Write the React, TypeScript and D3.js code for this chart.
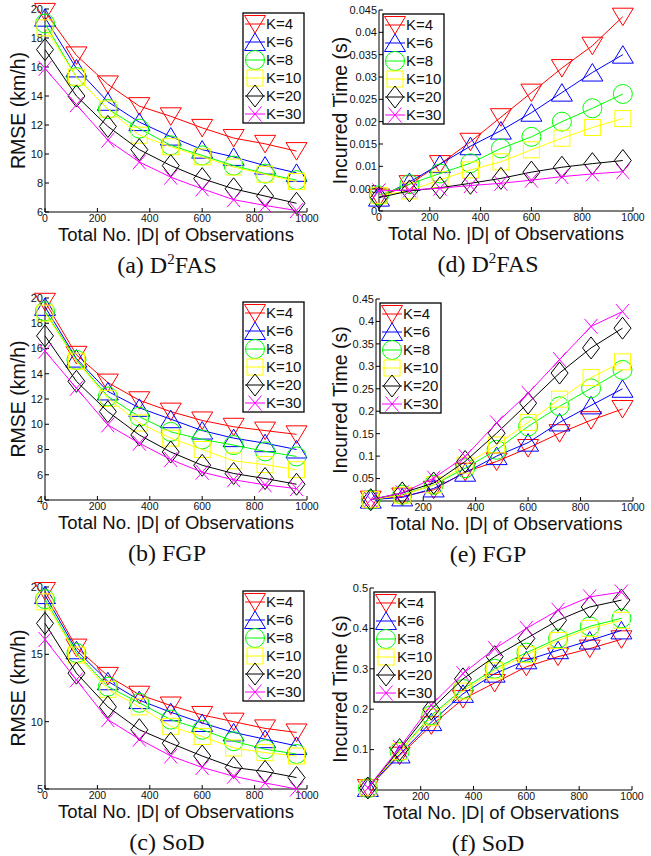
import React from "react";
import * as d3 from "d3";

// x positions of the observations (|D|)
const observations = [0, 120, 240, 360, 480, 600, 720, 840, 960];
const kLabels = ["K=4", "K=6", "K=8", "K=10", "K=20", "K=30"];
const kColors = ["#ff0000", "#0000ff", "#00ff00", "#ffff00", "#000000", "#ff00ff"];
const kMarkers = ["triangleDown", "triangleUp", "circle", "square", "diamond", "x"];

// one row per K (4, 6, 8, 10, 20, 30)
const rmseD2FAS = [
  [19.8, 16.8, 14.8, 13.3, 12.6, 11.8, 11.1, 10.7, 10.2],
  [19.4, 15.9, 13.6, 12.2, 11.2, 10.3, 9.8, 9.2, 8.7],
  [19.0, 15.3, 13.1, 11.75, 10.6, 9.9, 9.2, 8.65, 8.2],
  [18.7, 15.3, 13.1, 11.3, 10.5, 9.8, 9.1, 8.6, 8.1],
  [17.2, 14.0, 11.9, 10.3, 9.2, 8.3, 7.6, 7.1, 6.6],
  [15.9, 13.4, 10.95, 9.45, 8.4, 7.6, 6.85, 6.45, 6.1],
];
const timeD2FAS = [
  [0.003, 0.006, 0.0105, 0.0155, 0.021, 0.0265, 0.032, 0.037, 0.0435],
  [0.003, 0.0065, 0.0105, 0.0145, 0.018, 0.022, 0.0265, 0.031, 0.035],
  [0.0035, 0.006, 0.0084, 0.0107, 0.014, 0.0166, 0.02, 0.023, 0.0262],
  [0.0035, 0.0045, 0.007, 0.0092, 0.011, 0.0137, 0.0163, 0.0187, 0.0207],
  [0.003, 0.0045, 0.0052, 0.0062, 0.0073, 0.0087, 0.0098, 0.0106, 0.0113],
  [0.0045, 0.0047, 0.0051, 0.0057, 0.0062, 0.0069, 0.0077, 0.0083, 0.0088],
];
const rmseFGP = [
  [19.7, 15.5, 13.3, 11.9, 11.0, 10.3, 9.8, 9.5, 9.2],
  [19.3, 15.2, 12.6, 11.3, 10.4, 9.5, 8.9, 8.5, 8.0],
  [18.95, 15.1, 12.2, 10.6, 9.4, 8.8, 8.35, 7.85, 7.45],
  [18.8, 15.0, 12.05, 10.1, 8.9, 8.0, 7.1, 6.8, 6.4],
  [17.0, 13.4, 11.0, 9.15, 7.8, 6.75, 6.1, 5.7, 5.25],
  [15.8, 12.85, 9.95, 8.5, 7.2, 6.2, 5.6, 5.2, 4.9],
];
const timeFGP = [
  [0.003, 0.01, 0.025, 0.065, 0.088, 0.118, 0.151, 0.18, 0.205],
  [0.003, 0.008, 0.028, 0.063, 0.1, 0.13, 0.175, 0.213, 0.25],
  [0.003, 0.014, 0.036, 0.073, 0.114, 0.166, 0.211, 0.251, 0.292],
  [0.003, 0.013, 0.036, 0.08, 0.125, 0.175, 0.227, 0.275, 0.31],
  [0.003, 0.018, 0.04, 0.088, 0.151, 0.218, 0.285, 0.341, 0.385],
  [0.003, 0.018, 0.051, 0.099, 0.174, 0.24, 0.315, 0.389, 0.422],
];
const rmseSoD = [
  [19.7, 15.5, 13.4, 12.0, 11.2, 10.5, 10.0, 9.5, 9.2],
  [19.4, 15.3, 13.0, 11.6, 10.7, 9.9, 9.2, 8.7, 8.2],
  [19.1, 15.1, 12.6, 11.4, 10.15, 9.4, 8.55, 7.95, 7.6],
  [18.9, 14.95, 12.4, 11.1, 9.65, 8.9, 8.05, 7.7, 7.45],
  [17.3, 13.6, 11.1, 9.4, 8.4, 7.45, 6.6, 6.3, 5.85],
  [16.1, 13.1, 10.15, 8.7, 7.45, 6.6, 5.95, 5.45, 5.0],
];
const timeSoD = [
  [0.005, 0.085, 0.16, 0.225, 0.265, 0.305, 0.33, 0.35, 0.373],
  [0.005, 0.088, 0.168, 0.238, 0.288, 0.321, 0.346, 0.37, 0.395],
  [0.005, 0.095, 0.185, 0.25, 0.3, 0.34, 0.375, 0.405, 0.425],
  [0.005, 0.095, 0.18, 0.245, 0.295, 0.335, 0.37, 0.4, 0.42],
  [0.005, 0.1, 0.2, 0.275, 0.33, 0.375, 0.42, 0.453, 0.47],
  [0.005, 0.105, 0.21, 0.288, 0.35, 0.4, 0.445, 0.478, 0.49],
];

const xTicksFull = [0, 200, 400, 600, 800, 1000];
const xTicksNoZero = [200, 400, 600, 800, 1000];
const rmseTicks2 = [4, 6, 8, 10, 12, 14, 16, 18, 20];
const rmseTicks5 = [5, 10, 15, 20];
const timeTicksD2FAS = [0, 0.005, 0.01, 0.015, 0.02, 0.025, 0.03, 0.035, 0.04, 0.045];
const timeTicksFGP = [0.05, 0.1, 0.15, 0.2, 0.25, 0.3, 0.35, 0.4, 0.45];
const timeTicksSoD = [0.1, 0.2, 0.3, 0.4, 0.5];

const xTitle = "Total No. |D| of Observations";
const sans = "'Liberation Sans', Arial, sans-serif";
const serif = "'Liberation Serif', 'Times New Roman', serif";

const panels = [
  { id: "a", data: rmseD2FAS, yTitle: "RMSE (km/h)", method: "D2FAS", left: 45, right: 307, top: 9, bottom: 212, xDom: [0, 1000], yDom: [6, 20], xTicks: xTicksFull, yTicks: rmseTicks2.filter(t => t >= 6), legendSide: "right" },
  { id: "d", data: timeD2FAS, yTitle: "Incurred Time (s)", method: "D2FAS", left: 379, right: 633, top: 10, bottom: 211, xDom: [0, 1000], yDom: [0, 0.045], xTicks: xTicksFull, yTicks: timeTicksD2FAS, legendSide: "left" },
  { id: "b", data: rmseFGP, yTitle: "RMSE (km/h)", method: "FGP", left: 45, right: 307, top: 298, bottom: 500, xDom: [0, 1000], yDom: [4, 20], xTicks: xTicksFull, yTicks: rmseTicks2, legendSide: "right" },
  { id: "e", data: timeFGP, yTitle: "Incurred Time (s)", method: "FGP", left: 376, right: 633, top: 299, bottom: 501, xDom: [20, 1000], yDom: [0, 0.45], xTicks: xTicksNoZero, yTicks: timeTicksFGP, legendSide: "left" },
  { id: "c", data: rmseSoD, yTitle: "RMSE (km/h)", method: "SoD", left: 45, right: 307, top: 587, bottom: 789, xDom: [0, 1000], yDom: [5, 20], xTicks: xTicksFull, yTicks: rmseTicks5, legendSide: "right" },
  { id: "f", data: timeSoD, yTitle: "Incurred Time (s)", method: "SoD", left: 370, right: 632, top: 588, bottom: 790, xDom: [8, 1000], yDom: [0, 0.5], xTicks: xTicksNoZero, yTicks: timeTicksSoD, legendSide: "left" },
];

function Marker({ kind, x, y, color }: { kind: string; x: number; y: number; color: string }) {
  const common = { fill: "none", stroke: color, strokeWidth: 1 };
  if (kind === "triangleDown")
    return <polygon {...common} points={`${x - 10.5},${y - 8.5} ${x + 10.5},${y - 8.5} ${x},${y + 9}`} />;
  if (kind === "triangleUp")
    return <polygon {...common} points={`${x - 10.5},${y + 8.5} ${x + 10.5},${y + 8.5} ${x},${y - 9}`} />;
  if (kind === "circle") return <circle {...common} cx={x} cy={y} r={9.5} />;
  if (kind === "square") return <rect {...common} x={x - 8} y={y - 8} width={16} height={16} />;
  if (kind === "diamond")
    return <polygon {...common} points={`${x},${y - 11} ${x + 8.5},${y} ${x},${y + 11} ${x - 8.5},${y}`} />;
  return (
    <g {...common}>
      <line x1={x - 6.5} y1={y - 7.5} x2={x + 6.5} y2={y + 7.5} />
      <line x1={x - 6.5} y1={y + 7.5} x2={x + 6.5} y2={y - 7.5} />
    </g>
  );
}

function Panel({ p }: { p: any }) {
  const x = d3.scaleLinear().domain(p.xDom).range([p.left, p.right]);
  const y = d3.scaleLinear().domain(p.yDom).range([p.bottom, p.top]);
  const line = d3
    .line<number>()
    .x((_, i) => x(observations[i]))
    .y(d => y(d));
  const fmt = d3.format("~g");
  const midX = (p.left + p.right) / 2;
  const midY = (p.top + p.bottom) / 2;
  const capX = p.legendSide === "right" ? 167 : 488;
  const legLeft = p.legendSide === "right" ? p.right - 64 : p.left + 4;
  const legTop = p.top + 4;

  return (
    <g>
      {/* axes, box off, ticks inward */}
      <line x1={p.left} y1={p.top} x2={p.left} y2={p.bottom} stroke="#000" strokeWidth={1} />
      <line x1={p.left} y1={p.bottom} x2={p.right} y2={p.bottom} stroke="#000" strokeWidth={1} />
      {p.yTicks.map((t: number) => (
        <g key={"y" + t}>
          <line x1={p.left} x2={p.left + 4} y1={y(t)} y2={y(t)} stroke="#000" />
          <text x={p.left - 2} y={y(t)} dy="0.35em" textAnchor="end" fontSize={11} fontFamily={sans} fill="#111">
            {fmt(t)}
          </text>
        </g>
      ))}
      {p.xTicks.map((t: number) => (
        <g key={"x" + t}>
          <line x1={x(t)} x2={x(t)} y1={p.bottom} y2={p.bottom - 4} stroke="#000" />
          <text x={x(t)} y={p.bottom + 10} textAnchor="middle" fontSize={10.5} fontFamily={sans} fill="#111">
            {t}
          </text>
        </g>
      ))}
      <text x={midX} y={p.bottom + 28.5} textAnchor="middle" fontSize={18.5} fontFamily={sans} fill="#111">
        {xTitle}
      </text>
      <text
        transform={`translate(${p.legendSide === "right" ? 25 : 347},${midY}) rotate(-90)`}
        textAnchor="middle"
        fontSize={19.5}
        fontFamily={sans}
        fill="#111"
      >
        {p.yTitle}
      </text>

      {/* series */}
      {p.data.map((vals: number[], k: number) => (
        <g key={k}>
          <path d={line(vals) || ""} fill="none" stroke={kColors[k]} strokeWidth={1} />
          {vals.map((v, i) => (
            <Marker key={i} kind={kMarkers[k]} x={x(observations[i])} y={y(v)} color={kColors[k]} />
          ))}
        </g>
      ))}

      {/* legend */}
      <rect x={legLeft} y={legTop} width={61} height={110} fill="#fff" stroke="#000" strokeWidth={1.3} />
      {kLabels.map((lab, k) => {
        const cy = legTop + 11 + k * 18;
        return (
          <g key={lab}>
            <line x1={legLeft + 2} x2={legLeft + 22} y1={cy} y2={cy} stroke={kColors[k]} />
            <Marker kind={kMarkers[k]} x={legLeft + 12} y={cy} color={kColors[k]} />
            <text x={legLeft + 23} y={cy} dy="0.36em" fontSize={15} fontFamily={sans} fill="#111">
              {lab}
            </text>
          </g>
        );
      })}

      {/* sub-caption */}
      <text x={capX} y={p.bottom + 61} textAnchor="middle" fontSize={24} fontFamily={serif} fill="#111">
        ({p.id}){" "}
        {p.method === "D2FAS" ? (
          <>
            D<tspan fontSize={15} dy={-9}>2</tspan>
            <tspan dy={9}>FAS</tspan>
          </>
        ) : (
          p.method
        )}
      </text>
    </g>
  );
}

export default function App() {
  return (
    <svg
      width={651}
      height={856}
      style={{ position: "absolute", left: 0, top: 0, background: "#fff" }}
    >
      <rect width={651} height={856} fill="#fff" />
      {panels.map(p => (
        <Panel key={p.id} p={p} />
      ))}
    </svg>
  );
}
